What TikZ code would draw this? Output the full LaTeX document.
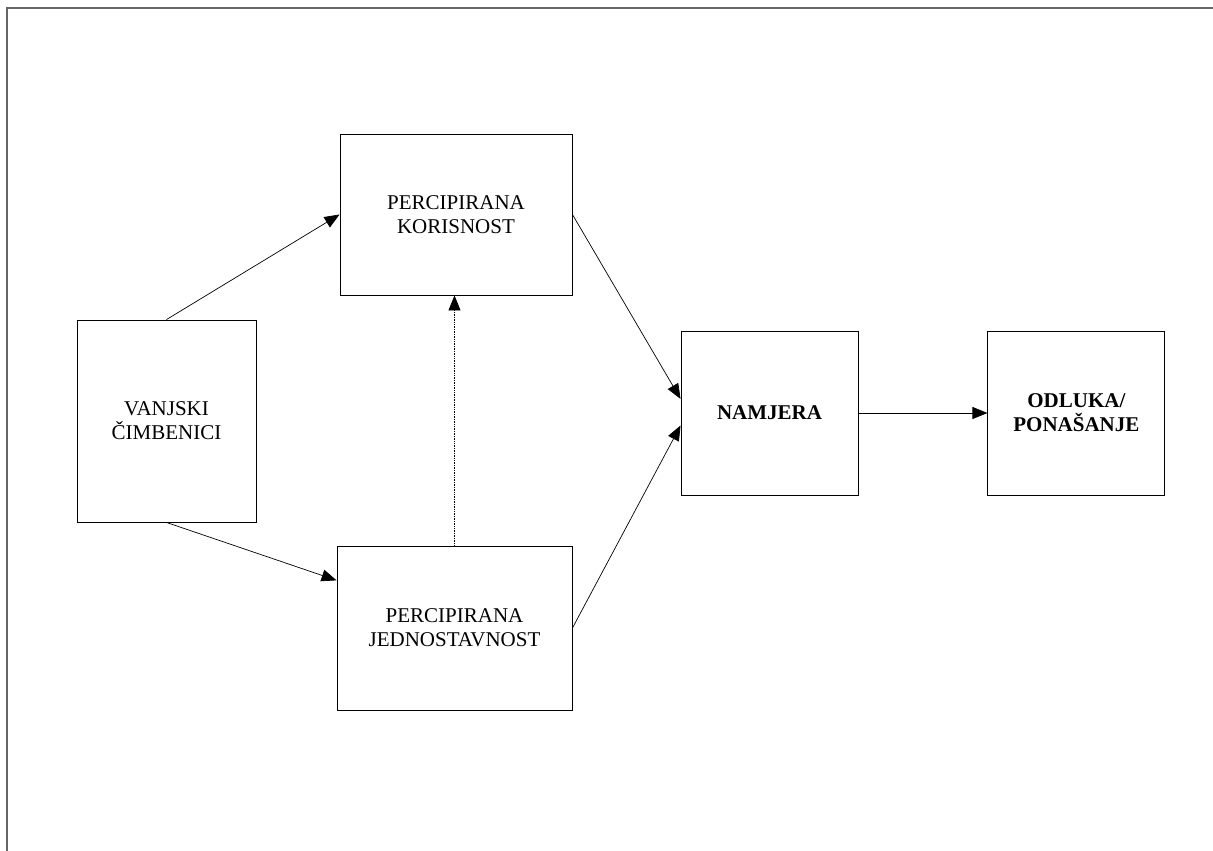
\documentclass[tikz,border=0pt]{standalone}
\usepackage{fontspec}
\setmainfont{Liberation Serif}
\usetikzlibrary{positioning,arrows.meta}

\begin{document}
\begin{tikzpicture}[x=1pt, y=-1pt,
        box_node/.style={rectangle, draw=black, line width=0.9pt, inner sep=0pt, align=center,
                         font=\fontsize{21}{24}\selectfont},
        bold_node/.style={box_node, font=\fontsize{21}{24}\selectfont\bfseries},
        link/.style={black, line width=0.7pt, -{Triangle[length=15pt, width=12pt]}}
        ]
            \useasboundingbox (0,0) rectangle (1213,851);
            % frame
            \draw[color=black!60, line width=2pt] (7,851) -- (7,8) -- (1213,8);

            % boxes
            \node[box_node, minimum width=232pt, minimum height=161pt] (korisnost) at (456,214.5)
                {PERCIPIRANA\\KORISNOST};
            \node[box_node, minimum width=179pt, minimum height=202pt] (vanjski) at (166.5,421)
                {VANJSKI\\ČIMBENICI};
            \node[box_node, minimum width=235pt, minimum height=164pt] (jednostavnost) at (454.5,628)
                {PERCIPIRANA\\JEDNOSTAVNOST};
            \node[bold_node, minimum width=177pt, minimum height=164pt] (namjera) at (769.5,413)
                {NAMJERA};
            \node[bold_node, minimum width=177pt, minimum height=164pt] (odluka)
                [right = 129pt of namjera] {ODLUKA/\\PONAŠANJE};

            % Lines
            \draw[link] (vanjski.north) -- (korisnost.west);
            \draw[link] (vanjski.south) -- (jednostavnost.158);
            \draw[link, densely dotted] (jednostavnost.north) -- (jednostavnost.north |- korisnost.south);
            \draw[link] (korisnost.east) -- (namjera.171.6);
            \draw[link] (jednostavnost.east) -- (namjera.188.4);
            \draw[link] (namjera.east) -- (odluka.west);
        \end{tikzpicture}
\end{document}
